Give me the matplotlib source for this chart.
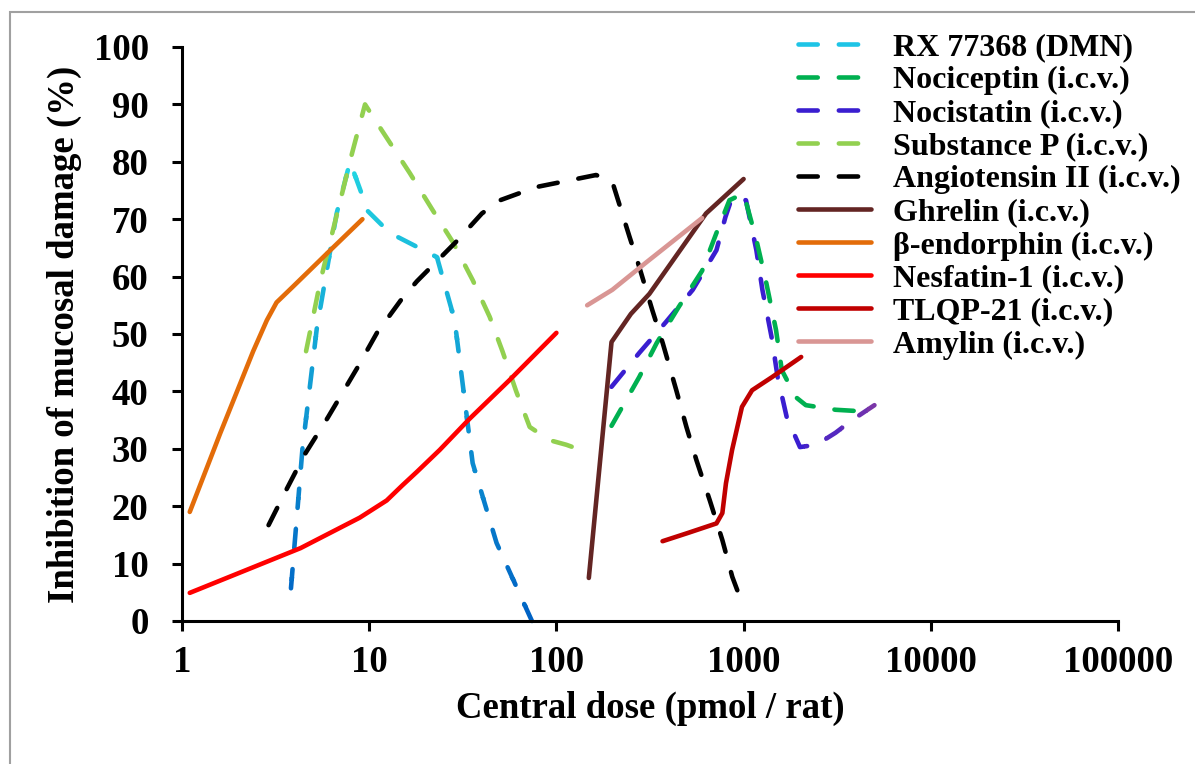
import numpy as np
import matplotlib
matplotlib.use("Agg")
import matplotlib.pyplot as plt
from matplotlib.patches import Rectangle
from matplotlib.lines import Line2D
from matplotlib.colors import to_rgb

plt.rcParams['font.family'] = ['Liberation Serif', 'DejaVu Serif']
plt.rcParams['font.weight'] = 'bold'

# ---------------- data ----------------
rx_x = [3.82, 4.4, 5.25, 6.7, 7.9, 9.1, 9.7, 12.9, 23, 28.6, 35.7, 47.9, 74]
rx_y = [5.7, 30, 51, 71, 80, 74.5, 71.6, 67.6, 63.4, 52.4, 27.5, 13.6, 0]

noci_x = [197, 277, 343, 450, 600, 716, 840, 1000, 1170, 1320, 1490, 1600, 1900, 2150, 3100, 5000]
noci_y = [34, 42.5, 48.4, 54.7, 61, 67.6, 73.3, 74.5, 66.4, 59, 50.7, 43.7, 39, 37.6, 36.8, 36.4]

nocis_x = [197, 277, 385, 535, 716, 800, 870, 1030, 1170, 1260, 1410, 1520, 1700, 2000, 2450, 3100, 3800, 5000]
nocis_y = [40.8, 46.7, 52.1, 57.7, 64.6, 70.4, 73.9, 73.3, 64.6, 57.7, 49.5, 42.5, 35.5, 30.3, 30.7, 32.8, 35, 37.6]

subp_x = [4.6, 5.5, 8.1, 9.5, 11.4, 16.5, 21.8, 28, 35.7, 44, 51.5, 61, 72, 92, 113, 146]
subp_y = [47, 59.4, 81.5, 90, 86, 78, 71.6, 66, 59.4, 53, 47, 40, 33.8, 31.5, 30.7, 29.4]

ang_x = [2.9, 3.6, 4.5, 6.0, 8.6, 11, 15, 18, 29, 40, 50, 78, 163, 199, 246, 277, 325, 370, 437, 495, 560, 660, 770, 870, 1000]
ang_y = [16.7, 22.8, 28.9, 35.4, 44, 50.2, 56.2, 59.2, 66, 71, 73.3, 75.6, 77.7, 76.5, 66.9, 61.7, 54.2, 48.4, 40.2, 33.8, 28, 21, 14.1, 7.7, 2.4]

ghr_x = [149, 197, 250, 314, 630, 1000]
ghr_y = [7.5, 48.6, 53.5, 57, 71, 77]

bend_x = [1.1, 1.6, 2.4, 2.84, 3.2, 3.9, 6.2, 9.2]
bend_y = [19, 32.7, 47, 52.4, 55.5, 58.2, 64.6, 70]

nesf_x = [1.1, 4.3, 8.9, 12.4, 15, 18, 23.8, 34.3, 56.3, 100]
nesf_y = [4.9, 12.7, 18, 21, 23.6, 26, 29.8, 35.2, 42, 50.2]

tlqp_x = [369, 500, 716, 770, 805, 868, 980, 1110, 1420, 2030]
tlqp_y = [13.9, 15.3, 17, 18.8, 24, 29.8, 37.3, 40.2, 42.5, 46]

amy_x = [146, 199, 300, 600]
amy_y = [55, 57.7, 62.4, 70.2]

labels = ["RX 77368 (DMN)", "Nociceptin (i.c.v.)", "Nocistatin (i.c.v.)",
          "Substance P (i.c.v.)", "Angiotensin II (i.c.v.)", "Ghrelin (i.c.v.)",
          "\u03b2-endorphin (i.c.v.)", "Nesfatin-1 (i.c.v.)", "TLQP-21 (i.c.v.)",
          "Amylin (i.c.v.)"]

xticks = [1, 10, 100, 1000, 10000, 100000]
xticklabels = ["1", "10", "100", "1000", "10000", "100000"]
yticks = list(range(0, 101, 10))

# ---------------- figure ----------------
W, H = 1195, 764
fig = plt.figure(figsize=(W / 100, H / 100), dpi=100)
ax = fig.add_axes([182 / W, 1 - 621 / H, (1118 - 182) / W, (621 - 47) / H])

LW = 3.3
DASH = (4.2, 4.6)
common_dash = dict(lw=LW, linestyle=(0, DASH), dash_capstyle='round', solid_capstyle='round')
common_solid = dict(lw=LW, solid_capstyle='round', solid_joinstyle='round')


def gradient_dashed(x, y, c0, c1, lo, hi, n, along='y', zorder=2):
    c0 = np.array(to_rgb(c0)); c1 = np.array(to_rgb(c1))
    edges = np.linspace(lo, hi, n + 1)
    for i in range(n):
        t = i / (n - 1)
        col = c0 * (1 - t) + c1 * t
        ln, = ax.plot(x, y, color=col, zorder=zorder, **common_dash)
        if along == 'y':
            a, b = edges[i] - 0.3, edges[i + 1] + 0.3
            rect = Rectangle((0.5, a), 1e6, b - a, transform=ax.transData)
        else:
            a, b = edges[i] * 0.995, edges[i + 1] * 1.005
            rect = Rectangle((a, -10), b - a, 130, transform=ax.transData)
        ln.set_clip_path(rect)


# RX 77368: cyan at top, blue at bottom
gradient_dashed(rx_x, rx_y, '#0062C4', '#22D4E2', -2, 82, 18, along='y')
# Nocistatin: blue-violet -> purple toward the right
gradient_dashed(nocis_x, nocis_y, '#3A1ED0', '#7A36A8', 1500, 5200, 6, along='x')
ln, = ax.plot(nocis_x, nocis_y, color='#3A1ED0', **common_dash)
ln.set_clip_path(Rectangle((100, -10), 1400, 130, transform=ax.transData))

ax.plot(noci_x, noci_y, color='#00B050', **common_dash)
ax.plot(subp_x, subp_y, color='#92D050', **common_dash)
ax.plot(ang_x, ang_y, color='#000000', **common_dash)
ax.plot(ghr_x, ghr_y, color='#632523', **common_solid)
ax.plot(bend_x, bend_y, color='#E36C09', **common_solid)
ax.plot(nesf_x, nesf_y, color='#FF0000', **common_solid)
ax.plot(tlqp_x, tlqp_y, color='#C00000', **common_solid)
ax.plot(amy_x, amy_y, color='#D99694', **common_solid)

ax.set_xscale('log')
ax.set_xlim(1, 100000)
ax.set_ylim(0, 100)
ax.set_xticks(xticks)
ax.set_xticklabels(xticklabels)
ax.xaxis.set_minor_locator(matplotlib.ticker.NullLocator())
ax.set_yticks(yticks)

for s in ['top', 'right']:
    ax.spines[s].set_visible(False)
for s in ['left', 'bottom']:
    ax.spines[s].set_linewidth(2.2)
ax.tick_params(axis='both', which='major', direction='out', length=7, width=2.2, labelsize=26.5)
ax.tick_params(axis='x', pad=10)
ax.tick_params(axis='y', pad=17)
for t in ax.get_xticklabels() + ax.get_yticklabels():
    t.set_fontweight('bold')

ax.set_xlabel("Central dose (pmol / rat)", fontsize=26.5, fontweight='bold', labelpad=8)
ax.set_ylabel("Inhibition of mucosal damage (%)", fontsize=26.5, fontweight='bold', labelpad=8)

# legend with proxy handles
leg_colors = ['#1EC4E6', '#00B050', '#3A1ED0', '#92D050', '#000000',
              '#632523', '#E36C09', '#FF0000', '#C00000', '#D99694']
leg_dashed = [True, True, True, True, True, False, False, False, False, False]
handles = []
for c, d in zip(leg_colors, leg_dashed):
    if d:
        handles.append(Line2D([], [], color=c, **common_dash))
    else:
        handles.append(Line2D([], [], color=c, **common_solid))
leg = fig.legend(handles, labels, loc='upper left', bbox_to_anchor=(798 / W, 1 - 33 / H),
                 frameon=False, fontsize=23, handlelength=2.3, handletextpad=0.66,
                 labelspacing=0.115, borderpad=0, borderaxespad=0)
for t in leg.get_texts():
    t.set_fontweight('bold')

# outer gray border
fig.patches.append(Rectangle((10 / W, -0.01), 1.02, 1 - 12 / H + 0.01, transform=fig.transFigure,
                             fill=False, edgecolor='#A0A0A0', lw=1.5))

fig.savefig('out.png', dpi=100)
